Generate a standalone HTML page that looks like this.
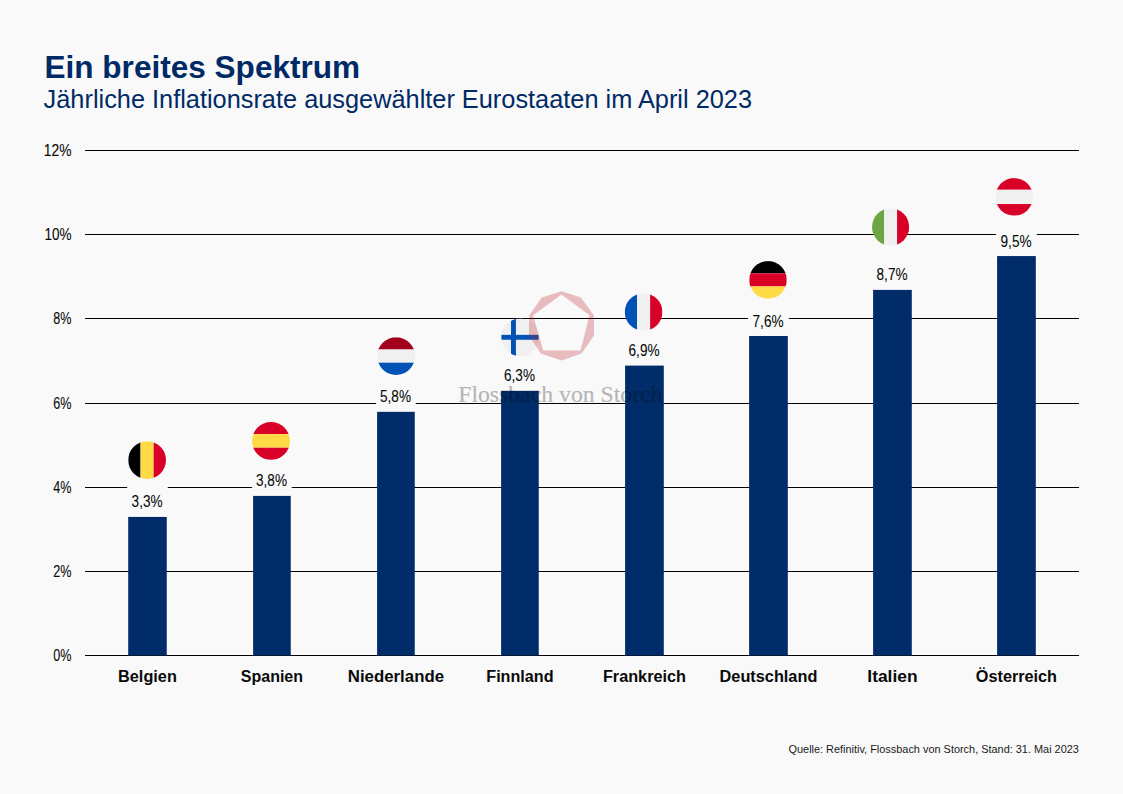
<!DOCTYPE html>
<html><head><meta charset="utf-8">
<style>
html,body{margin:0;padding:0;background:#f9f9f9;}
body{width:1123px;height:794px;overflow:hidden;position:relative;}
svg{position:absolute;left:0;top:0;}
text{font-family:"Liberation Sans",sans-serif;}
.ti{font-size:32px;font-weight:bold;fill:#002a66;}
.st{font-size:25px;fill:#002a66;}
.ax{font-size:15.8px;fill:#0a0a0a;stroke:#0a0a0a;stroke-width:0.1px;}
.val{font-size:15.8px;fill:#0a0a0a;stroke:#0a0a0a;stroke-width:0.1px;}
.nm{font-size:15.8px;font-weight:bold;fill:#0a0a0a;}
.src{font-size:11px;fill:#1a1a1a;}
.wm{font-family:"Liberation Serif",serif;font-size:22.5px;fill:#000;stroke:#000;stroke-width:0.2px;}
</style></head><body>
<svg width="1123" height="794" viewBox="0 0 1123 794">
<text x="44.50" y="77.90" text-anchor="start" class="ti" textLength="315.60" lengthAdjust="spacingAndGlyphs" >Ein breites Spektrum</text>
<text x="43.60" y="107.85" text-anchor="start" class="st" textLength="708.40" lengthAdjust="spacingAndGlyphs" >Jährliche Inflationsrate ausgewählter Eurostaaten im April 2023</text>
<rect x="85" y="655" width="994" height="1" fill="#000"/>
<rect x="85" y="571" width="994" height="1" fill="#000"/>
<rect x="85" y="487" width="994" height="1" fill="#000"/>
<rect x="85" y="403" width="994" height="1" fill="#000"/>
<rect x="85" y="318" width="994" height="1" fill="#000"/>
<rect x="85" y="234" width="994" height="1" fill="#000"/>
<rect x="85" y="150" width="994" height="1" fill="#000"/>
<text x="71.50" y="661.20" text-anchor="end" class="ax" textLength="18.20" lengthAdjust="spacingAndGlyphs" >0%</text>
<text x="71.50" y="577.20" text-anchor="end" class="ax" textLength="18.20" lengthAdjust="spacingAndGlyphs" >2%</text>
<text x="71.50" y="493.20" text-anchor="end" class="ax" textLength="18.20" lengthAdjust="spacingAndGlyphs" >4%</text>
<text x="71.50" y="409.20" text-anchor="end" class="ax" textLength="18.20" lengthAdjust="spacingAndGlyphs" >6%</text>
<text x="71.50" y="324.20" text-anchor="end" class="ax" textLength="18.20" lengthAdjust="spacingAndGlyphs" >8%</text>
<text x="71.50" y="240.20" text-anchor="end" class="ax" textLength="27.10" lengthAdjust="spacingAndGlyphs" >10%</text>
<text x="71.50" y="156.20" text-anchor="end" class="ax" textLength="27.70" lengthAdjust="spacingAndGlyphs" >12%</text>
<rect x="128.20" y="516.74" width="38.55" height="138.76" fill="#002d6a"/>
<rect x="127.20" y="484.74" width="40.55" height="32" fill="#f9f9f9"/>
<text x="147.07" y="507.34" text-anchor="middle" class="val" textLength="31.00" lengthAdjust="spacingAndGlyphs" >3,3%</text>
<text x="147.47" y="681.70" text-anchor="middle" class="nm" textLength="58.80" lengthAdjust="spacingAndGlyphs" >Belgien</text>
<rect x="253.10" y="495.71" width="37.65" height="159.79" fill="#002d6a"/>
<rect x="252.10" y="463.71" width="39.65" height="32" fill="#f9f9f9"/>
<text x="271.53" y="486.31" text-anchor="middle" class="val" textLength="31.00" lengthAdjust="spacingAndGlyphs" >3,8%</text>
<text x="271.93" y="681.70" text-anchor="middle" class="nm" textLength="62.30" lengthAdjust="spacingAndGlyphs" >Spanien</text>
<rect x="377.10" y="411.61" width="37.65" height="243.89" fill="#002d6a"/>
<rect x="376.10" y="379.61" width="39.65" height="32" fill="#f9f9f9"/>
<text x="395.53" y="402.21" text-anchor="middle" class="val" textLength="31.00" lengthAdjust="spacingAndGlyphs" >5,8%</text>
<text x="395.93" y="681.70" text-anchor="middle" class="nm" textLength="96.30" lengthAdjust="spacingAndGlyphs" >Niederlande</text>
<rect x="501.10" y="390.59" width="37.65" height="264.91" fill="#002d6a"/>
<rect x="500.10" y="358.59" width="39.65" height="32" fill="#f9f9f9"/>
<text x="519.52" y="381.19" text-anchor="middle" class="val" textLength="31.00" lengthAdjust="spacingAndGlyphs" >6,3%</text>
<text x="519.92" y="681.70" text-anchor="middle" class="nm" textLength="67.30" lengthAdjust="spacingAndGlyphs" >Finnland</text>
<rect x="625.10" y="365.36" width="38.70" height="290.14" fill="#002d6a"/>
<rect x="624.10" y="333.36" width="40.70" height="32" fill="#f9f9f9"/>
<text x="644.05" y="355.96" text-anchor="middle" class="val" textLength="31.00" lengthAdjust="spacingAndGlyphs" >6,9%</text>
<text x="644.45" y="681.70" text-anchor="middle" class="nm" textLength="83.10" lengthAdjust="spacingAndGlyphs" >Frankreich</text>
<rect x="749.10" y="335.92" width="38.70" height="319.58" fill="#002d6a"/>
<rect x="748.10" y="303.92" width="40.70" height="32" fill="#f9f9f9"/>
<text x="768.05" y="326.52" text-anchor="middle" class="val" textLength="31.00" lengthAdjust="spacingAndGlyphs" >7,6%</text>
<text x="768.45" y="681.70" text-anchor="middle" class="nm" textLength="97.80" lengthAdjust="spacingAndGlyphs" >Deutschland</text>
<rect x="873.10" y="289.67" width="38.70" height="365.83" fill="#002d6a"/>
<rect x="872.10" y="257.67" width="40.70" height="32" fill="#f9f9f9"/>
<text x="892.05" y="280.27" text-anchor="middle" class="val" textLength="31.00" lengthAdjust="spacingAndGlyphs" >8,7%</text>
<text x="892.45" y="681.70" text-anchor="middle" class="nm" textLength="50.20" lengthAdjust="spacingAndGlyphs" >Italien</text>
<rect x="997.10" y="256.03" width="38.70" height="399.47" fill="#002d6a"/>
<rect x="996.10" y="224.03" width="40.70" height="32" fill="#f9f9f9"/>
<text x="1016.05" y="246.63" text-anchor="middle" class="val" textLength="31.00" lengthAdjust="spacingAndGlyphs" >9,5%</text>
<text x="1016.45" y="681.70" text-anchor="middle" class="nm" textLength="81.20" lengthAdjust="spacingAndGlyphs" >Österreich</text>
<clipPath id="cBE"><circle cx="147.1" cy="460.1" r="18.9"/></clipPath><g clip-path="url(#cBE)"><rect x="128.20" y="441.20" width="12.34" height="37.80" fill="#000000"/><rect x="140.52" y="441.20" width="13.17" height="37.80" fill="#FFDA44"/><rect x="153.68" y="441.20" width="12.34" height="37.80" fill="#D80027"/></g>
<clipPath id="cES"><circle cx="271.0" cy="440.9" r="18.95"/></clipPath><g clip-path="url(#cES)"><rect x="252.05" y="421.95" width="37.90" height="12.15" fill="#D80027"/><rect x="252.05" y="434.08" width="37.90" height="13.66" fill="#FFDA44"/><rect x="252.05" y="447.72" width="37.90" height="12.15" fill="#D80027"/></g>
<clipPath id="cNL"><circle cx="396.1" cy="356.1" r="18.9"/></clipPath><g clip-path="url(#cNL)"><rect x="377.20" y="337.20" width="37.80" height="12.34" fill="#A2001D"/><rect x="377.20" y="349.52" width="37.80" height="13.17" fill="#F0F0F0"/><rect x="377.20" y="362.68" width="37.80" height="12.34" fill="#0052B4"/></g>
<clipPath id="cFI"><circle cx="520.0" cy="337.3" r="18.8"/></clipPath><g clip-path="url(#cFI)"><rect x="501.20" y="318.50" width="37.60" height="37.60" fill="#F0F0F0"/><rect x="511.01" y="318.50" width="4.90" height="37.60" fill="#0052B4"/><rect x="501.20" y="334.85" width="37.60" height="4.90" fill="#0052B4"/></g>
<clipPath id="cFR"><circle cx="643.6" cy="312.0" r="18.8"/></clipPath><g clip-path="url(#cFR)"><rect x="624.80" y="293.20" width="12.28" height="37.60" fill="#0052B4"/><rect x="637.06" y="293.20" width="13.10" height="37.60" fill="#F0F0F0"/><rect x="650.14" y="293.20" width="12.28" height="37.60" fill="#D80027"/></g>
<clipPath id="cDE"><circle cx="768.0" cy="279.9" r="18.8"/></clipPath><g clip-path="url(#cDE)"><rect x="749.20" y="261.10" width="37.60" height="12.28" fill="#000000"/><rect x="749.20" y="273.36" width="37.60" height="13.10" fill="#D80027"/><rect x="749.20" y="286.44" width="37.60" height="12.28" fill="#FFDA44"/></g>
<clipPath id="cIT"><circle cx="890.6" cy="227.0" r="18.6"/></clipPath><g clip-path="url(#cIT)"><rect x="872.00" y="208.40" width="12.15" height="37.20" fill="#6DA544"/><rect x="884.13" y="208.40" width="12.97" height="37.20" fill="#F0F0F0"/><rect x="897.07" y="208.40" width="12.15" height="37.20" fill="#D80027"/></g>
<clipPath id="cAT"><circle cx="1014.2" cy="196.9" r="18.8"/></clipPath><g clip-path="url(#cAT)"><rect x="995.40" y="178.10" width="37.60" height="11.68" fill="#D80027"/><rect x="995.40" y="189.76" width="37.60" height="14.31" fill="#F0F0F0"/><rect x="995.40" y="204.04" width="37.60" height="11.68" fill="#D80027"/></g>
<path d="M561.5,291.2 L581.0,297.6 L593.8,315.2 L594.0,335.4 L581.5,353.5 L561.5,360.4 L540.7,353.5 L528.9,335.4 L529.3,315.2 L541.7,297.6Z M533.1,315.2 L543.2,350.5 L580.5,350.5 L589.5,315.2 L561.5,294.6Z" fill="#c01d27" fill-opacity="0.28" fill-rule="evenodd"/>
<g opacity="0.27"><text x="458.20" y="401.80" text-anchor="start" class="wm" textLength="204.30" lengthAdjust="spacingAndGlyphs" >Flossbach von Storch</text></g>
<text x="1078.90" y="752.80" text-anchor="end" class="src" textLength="290.40" lengthAdjust="spacingAndGlyphs" >Quelle: Refinitiv, Flossbach von Storch, Stand: 31. Mai 2023</text>
</svg>
</body></html>
